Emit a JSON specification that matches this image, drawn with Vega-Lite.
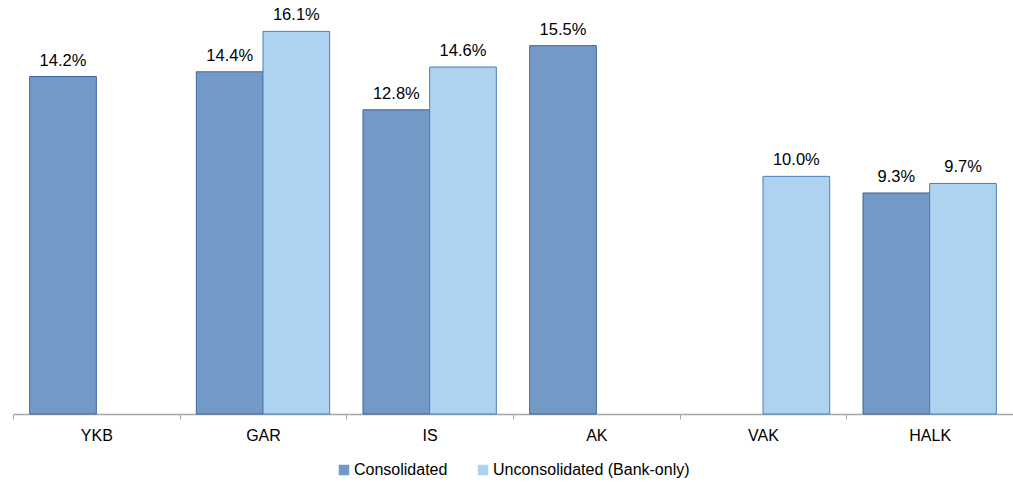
{
  "$schema": "https://vega.github.io/schema/vega-lite/v6.json",
  "width": 1000,
  "height": 404,
  "autosize": {"type": "none"},
  "padding": {"left": 13, "top": 10, "right": 0, "bottom": 73},
  "background": "white",
  "config": {
    "view": {"stroke": null},
    "font": "Liberation Sans",
    "text": {"font": "Liberation Sans"}
  },
  "data": {
    "values": [
      {"bank": "YKB", "series": "Consolidated", "value": 0.142},
      {"bank": "GAR", "series": "Consolidated", "value": 0.144},
      {"bank": "GAR", "series": "Unconsolidated (Bank-only)", "value": 0.161},
      {"bank": "IS", "series": "Consolidated", "value": 0.128},
      {"bank": "IS", "series": "Unconsolidated (Bank-only)", "value": 0.146},
      {"bank": "AK", "series": "Consolidated", "value": 0.155},
      {"bank": "VAK", "series": "Unconsolidated (Bank-only)", "value": 0.100},
      {"bank": "HALK", "series": "Consolidated", "value": 0.093},
      {"bank": "HALK", "series": "Unconsolidated (Bank-only)", "value": 0.097}
    ]
  },
  "encoding": {
    "x": {
      "field": "bank",
      "type": "nominal",
      "sort": ["YKB", "GAR", "IS", "AK", "VAK", "HALK"],
      "scale": {"paddingInner": 0, "paddingOuter": 0},
      "axis": {
        "title": null,
        "labelAngle": 0,
        "labelFontSize": 16,
        "labelColor": "#000000",
        "labelFont": "Liberation Sans",
        "labelPadding": 8,
        "tickBand": "extent",
        "tickSize": 5,
        "tickColor": "#A6A6A6",
        "domainColor": "#A6A6A6",
        "domainWidth": 1.5
      }
    },
    "xOffset": {
      "field": "series",
      "type": "nominal",
      "sort": ["Consolidated", "Unconsolidated (Bank-only)"],
      "scale": {"paddingInner": 0, "paddingOuter": 0.25}
    },
    "y": {
      "field": "value",
      "type": "quantitative",
      "scale": {"domain": [0, 0.17], "nice": false},
      "axis": null
    }
  },
  "layer": [
    {
      "mark": {"type": "bar", "strokeWidth": 1},
      "encoding": {
        "fill": {
          "field": "series",
          "type": "nominal",
          "sort": ["Consolidated", "Unconsolidated (Bank-only)"],
          "scale": {"range": ["#7399C6", "#ADD3F0"]},
          "legend": {
            "title": null,
            "orient": "none",
            "legendX": 323,
            "legendY": 452,
            "padding": 0,
            "direction": "horizontal",
            "symbolType": "square",
            "symbolSize": 110,
            "symbolStrokeWidth": 1,
            "labelFontSize": 16,
            "labelColor": "#000000",
            "labelFont": "Liberation Sans",
            "labelLimit": 0,
            "labelOffset": 2,
            "columnPadding": 27
          }
        },
        "stroke": {
          "field": "series",
          "type": "nominal",
          "sort": ["Consolidated", "Unconsolidated (Bank-only)"],
          "scale": {"range": ["#3B64A0", "#4A7EBB"]}
        }
      }
    },
    {
      "mark": {"type": "text", "baseline": "alphabetic", "dy": -11, "fontSize": 16.5, "color": "#000000"},
      "encoding": {
        "text": {"field": "value", "type": "quantitative", "format": ".1%"}
      }
    }
  ]
}
